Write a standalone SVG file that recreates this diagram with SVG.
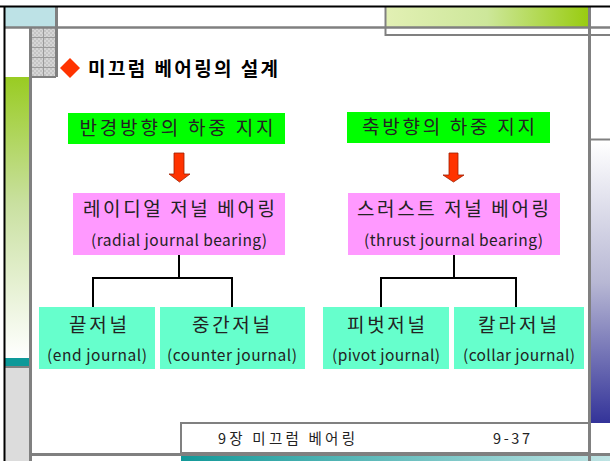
<svg xmlns="http://www.w3.org/2000/svg" width="610" height="461" viewBox="0 0 610 461">
<defs>
<linearGradient id="gTop" x1="0" y1="0" x2="1" y2="0"><stop offset="0" stop-color="#e2f0b4"/><stop offset="0.5" stop-color="#cde79a"/><stop offset="1" stop-color="#99cc11"/></linearGradient>
<linearGradient id="gLeft" x1="0" y1="0" x2="0" y2="1"><stop offset="0" stop-color="#99cc22"/><stop offset="0.45" stop-color="#c9e0a0"/><stop offset="1" stop-color="#ffffff"/></linearGradient>
<linearGradient id="gRight" x1="0" y1="0" x2="0" y2="1"><stop offset="0" stop-color="#ffffff"/><stop offset="0.5" stop-color="#b8b8d4"/><stop offset="1" stop-color="#333399"/></linearGradient>
<linearGradient id="gBot" x1="0" y1="0" x2="1" y2="0"><stop offset="0" stop-color="#129999"/><stop offset="1" stop-color="#bfe4e4"/></linearGradient>
<pattern id="chk" width="4" height="4" patternUnits="userSpaceOnUse"><rect width="4" height="4" fill="#c4c4c4"/><rect width="2" height="2" fill="#d6d6d6"/><rect x="2" y="2" width="2" height="2" fill="#d6d6d6"/></pattern>
</defs>
<style>
.fr{stroke:#808080;fill:none}
.k{font-family:"Noto Sans CJK KR","Noto Sans",sans-serif;fill:#222;text-anchor:middle}
.t1{font-size:19px}
.t2{font-size:15.5px}
.con{stroke:#000;stroke-width:2;fill:none}
.arr{fill:#ff3300;stroke:#a02000;stroke-width:0.8}
</style>
<rect width="610" height="461" fill="#fff"/>
<!-- frame decorations -->
<rect x="5" y="7" width="51" height="20" fill="#bde2e6"/>
<rect x="386" y="7" width="202" height="20" fill="url(#gTop)"/>
<rect x="30" y="28" width="26" height="49" fill="url(#chk)"/>
<g stroke="#9a9a9a" stroke-width="1"><line x1="31" y1="37.5" x2="56" y2="37.5"/><line x1="31" y1="47.5" x2="56" y2="47.5"/><line x1="31" y1="57.5" x2="56" y2="57.5"/><line x1="31" y1="67.5" x2="56" y2="67.5"/><line x1="43.5" y1="28" x2="43.5" y2="77"/></g>
<rect x="5" y="77" width="24" height="281" fill="url(#gLeft)"/>
<rect x="5" y="358" width="24" height="8" fill="#0e9999"/>
<rect x="5" y="368" width="24" height="93" fill="#dcdcdc"/>
<rect x="591" y="141" width="19" height="282" fill="url(#gRight)"/>
<rect x="181" y="456" width="429" height="5" fill="url(#gBot)"/>
<g class="fr">
<line x1="4" y1="27.5" x2="610" y2="27.5" stroke-width="2.5"/>
<line x1="56.5" y1="7" x2="56.5" y2="77" stroke-width="3"/>
<line x1="30" y1="77" x2="56" y2="77" stroke-width="2"/>
<line x1="30.5" y1="28" x2="30.5" y2="461" stroke-width="3"/>
<line x1="385.5" y1="7" x2="385.5" y2="36" stroke-width="2"/>
<line x1="385" y1="35" x2="610" y2="35" stroke-width="2"/>
<line x1="589.5" y1="7" x2="589.5" y2="461" stroke-width="3"/>
<line x1="591" y1="139.5" x2="610" y2="139.5" stroke-width="2"/>
<line x1="5" y1="367" x2="30" y2="367" stroke-width="2"/>
<line x1="30" y1="454.5" x2="610" y2="454.5" stroke-width="3"/>
</g>
<line x1="0" y1="6.5" x2="610" y2="6.5" stroke="#000" stroke-width="2"/>
<line x1="4.5" y1="6" x2="4.5" y2="461" stroke="#000" stroke-width="2"/>
<!-- title -->
<g id="title">
<polygon points="70,58 80,68 70,78 60,68" fill="#ff3300"/>
<text x="88" y="76" font-family="'Noto Sans CJK KR',sans-serif" font-size="19" font-weight="bold" fill="#000" textLength="190" lengthAdjust="spacing">미끄럼 베어링의 설계</text>
</g>
<!-- connectors -->
<g id="connectors">
<polyline class="con" points="179,255 179,278 93,278 93,307"/>
<polyline class="con" points="179,278 232,278 232,307"/>
<polyline class="con" points="454,255 454,278 381,278 381,307"/>
<polyline class="con" points="454,278 516,278 516,307"/>
<polygon class="arr" points="174,153 184,153 184,174 190,174 179.5,182 169,174 174,174"/>
<polygon class="arr" points="449,153 458,153 458,175 464,175 453.5,182 443,175 449,175"/>
</g>
<g id="n_radial_load">
<rect x="68" y="113" width="217" height="31" fill="#00ff00"/>
<text class="k t1" x="176.5" y="135" textLength="194" lengthAdjust="spacing">반경방향의 하중 지지</text>
</g>
<g id="n_axial_load">
<rect x="347" y="112" width="203" height="31" fill="#00ff00"/>
<text class="k t1" x="448.5" y="134" textLength="173" lengthAdjust="spacing">축방향의 하중 지지</text>
</g>
<g id="n_radial">
<rect x="73" y="193" width="212" height="62" fill="#ff99ff"/>
<text class="k t1" x="179" y="216" textLength="192" lengthAdjust="spacing">레이디얼 저널 베어링</text>
<text class="k t2" x="179" y="246" textLength="176" lengthAdjust="spacing">(radial journal bearing)</text>
</g>
<g id="n_thrust">
<rect x="348" y="193" width="212" height="62" fill="#ff99ff"/>
<text class="k t1" x="453" y="216" textLength="192" lengthAdjust="spacing">스러스트 저널 베어링</text>
<text class="k t2" x="453.5" y="246" textLength="179" lengthAdjust="spacing">(thrust journal bearing)</text>
</g>
<g id="n_end">
<rect x="39" y="307" width="116" height="62" fill="#66ffcc"/>
<text class="k t1" x="98" y="332" textLength="58" lengthAdjust="spacing">끝저널</text>
<text class="k t2" x="97" y="361" textLength="100" lengthAdjust="spacing">(end journal)</text>
</g>
<g id="n_counter">
<rect x="160" y="307" width="145" height="62" fill="#66ffcc"/>
<text class="k t1" x="231" y="332" textLength="78" lengthAdjust="spacing">중간저널</text>
<text class="k t2" x="232" y="361" textLength="130" lengthAdjust="spacing">(counter journal)</text>
</g>
<g id="n_pivot">
<rect x="323" y="307" width="126" height="62" fill="#66ffcc"/>
<text class="k t1" x="386" y="332" textLength="78" lengthAdjust="spacing">피벗저널</text>
<text class="k t2" x="386" y="361" textLength="108" lengthAdjust="spacing">(pivot journal)</text>
</g>
<g id="n_collar">
<rect x="454" y="307" width="130" height="62" fill="#66ffcc"/>
<text class="k t1" x="517.5" y="332" textLength="79" lengthAdjust="spacing">칼라저널</text>
<text class="k t2" x="519" y="361" textLength="112" lengthAdjust="spacing">(collar journal)</text>
</g>
<!-- footer -->
<g id="footer">
<rect x="181" y="423" width="408" height="30" fill="#fff" stroke="#808080" stroke-width="2"/>
<text x="218" y="444" font-family="'Noto Sans CJK KR',sans-serif" font-size="14.5" fill="#222" textLength="137" lengthAdjust="spacing">9장 미끄럼 베어링</text>
<text x="493" y="444" font-family="'Noto Sans CJK KR',sans-serif" font-size="14.5" fill="#222" textLength="37" lengthAdjust="spacing">9-37</text>
</g>
</svg>
